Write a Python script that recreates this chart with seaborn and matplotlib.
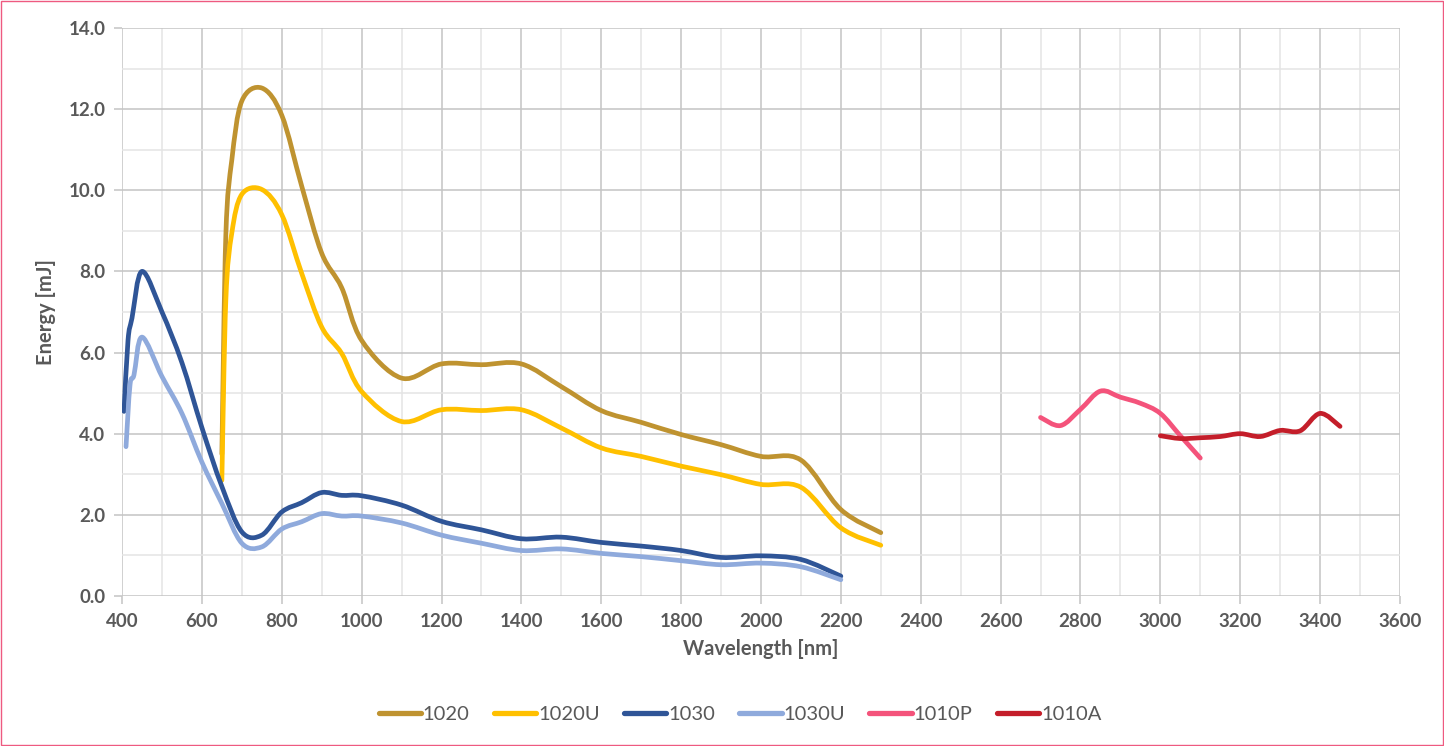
import matplotlib
matplotlib.use("Agg")
import matplotlib.pyplot as plt
import seaborn as sns
import numpy as np
from matplotlib.path import Path
from matplotlib.patches import PathPatch, Rectangle
from matplotlib.lines import Line2D
from matplotlib.ticker import MultipleLocator, FormatStrFormatter

# Data (wavelength in nm, energy in mJ)
wl_1020 = [650, 660, 675, 700, 750, 800, 850, 900, 950, 1000, 1100, 1200, 1300, 1400,
           1500, 1600, 1700, 1800, 1900, 2000, 2100, 2200, 2300]
e_1020 = [3.5, 8.9, 10.75, 12.2, 12.52, 11.85, 10.1, 8.45, 7.6, 6.3, 5.37, 5.72, 5.7, 5.72,
          5.16, 4.57, 4.28, 3.98, 3.73, 3.44, 3.35, 2.13, 1.56]

wl_1020u = wl_1020
e_1020u = [2.85, 7.3, 8.95, 9.9, 10.02, 9.4, 7.95, 6.63, 5.98, 5.04, 4.3, 4.59, 4.57, 4.59,
           4.14, 3.65, 3.44, 3.2, 2.99, 2.75, 2.68, 1.68, 1.25]

wl_1030 = [405, 415, 425, 450, 500, 550, 600, 650, 700, 750, 800, 850, 900, 950, 1000,
           1100, 1200, 1300, 1400, 1500, 1600, 1700, 1800, 1900, 2000, 2100, 2200]
e_1030 = [4.55, 6.3, 6.85, 8.0, 7.0, 5.75, 4.15, 2.7, 1.58, 1.5, 2.07, 2.3, 2.55, 2.48, 2.47,
          2.24, 1.84, 1.63, 1.41, 1.45, 1.32, 1.23, 1.12, 0.95, 0.99, 0.9, 0.49]

wl_1030u = [410, 420, 430, 450, 500, 550, 600, 650, 700, 750, 800, 850, 900, 950, 1000,
            1100, 1200, 1300, 1400, 1500, 1600, 1700, 1800, 1900, 2000, 2100, 2200]
e_1030u = [3.68, 5.2, 5.45, 6.38, 5.41, 4.5, 3.3, 2.28, 1.3, 1.21, 1.65, 1.83, 2.03, 1.97, 1.97,
           1.8, 1.5, 1.3, 1.12, 1.16, 1.05, 0.97, 0.87, 0.77, 0.81, 0.72, 0.4]

wl_1010p = [2700, 2750, 2800, 2850, 2900, 2950, 3000, 3050, 3100]
e_1010p = [4.4, 4.2, 4.6, 5.05, 4.9, 4.75, 4.5, 3.95, 3.4]

wl_1010a = [3000, 3050, 3100, 3150, 3200, 3250, 3300, 3350, 3400, 3450]
e_1010a = [3.95, 3.88, 3.9, 3.93, 4.0, 3.93, 4.08, 4.07, 4.5, 4.18]

SERIES = [
    ("1020", wl_1020, e_1020),
    ("1020U", wl_1020u, e_1020u),
    ("1030", wl_1030, e_1030),
    ("1030U", wl_1030u, e_1030u),
    ("1010P", wl_1010p, e_1010p),
    ("1010A", wl_1010a, e_1010a),
]
COLORS = sns.color_palette(["#BF9330", "#FFC000", "#2F5597", "#8FAADC", "#F4537B", "#C41E2A"])

TEXT_GREY = "#595959"
MAJOR_GRID = "#C4C4C4"
MINOR_GRID = "#E4E4E4"
LINE_W = 3.4


def smooth_path(x, y):
    """Excel-style smoothed line: cubic Bezier segments through the points."""
    pts = np.column_stack([x, y]).astype(float)
    n = len(pts)
    verts = [pts[0]]
    codes = [Path.MOVETO]
    for i in range(n - 1):
        p0 = pts[max(i - 1, 0)]
        p1 = pts[i]
        p2 = pts[i + 1]
        p3 = pts[min(i + 2, n - 1)]
        c1 = p1 + (p2 - p0) / 6.0
        c2 = p2 - (p3 - p1) / 6.0
        verts += [c1, c2, p2]
        codes += [Path.CURVE4] * 3
    return Path(verts, codes)


sns.set_theme(style="whitegrid")
plt.rcParams["font.family"] = ["Lato", "DejaVu Sans"]

fig = plt.figure(figsize=(14.44, 7.46), dpi=100)
ax = fig.add_axes([0.0845, 0.2011, 0.8850, 0.7614])
ax.set_facecolor("white")

for (name, xs, ys), color in zip(SERIES, COLORS):
    patch = PathPatch(smooth_path(xs, ys), facecolor="none", edgecolor=color,
                      linewidth=LINE_W, capstyle="round", joinstyle="round", zorder=3)
    ax.add_patch(patch)

ax.set_xlim(400, 3600)
ax.set_ylim(0, 14)
ax.xaxis.set_major_locator(MultipleLocator(200))
ax.xaxis.set_minor_locator(MultipleLocator(100))
ax.yaxis.set_major_locator(MultipleLocator(2))
ax.yaxis.set_minor_locator(MultipleLocator(1))
ax.yaxis.set_major_formatter(FormatStrFormatter("%.1f"))

ax.grid(which="major", color=MAJOR_GRID, linewidth=1.1)
ax.grid(which="minor", color=MINOR_GRID, linewidth=1.1)
ax.set_axisbelow(True)
for side in ["top", "right", "left", "bottom"]:
    ax.spines[side].set_visible(False)

ax.tick_params(axis="both", which="major", length=6, width=1.1, color=MAJOR_GRID,
               labelsize=13.5, labelcolor=TEXT_GREY, pad=6)
ax.tick_params(axis="both", which="minor", length=0)
ax.tick_params(axis="x", bottom=True)
ax.tick_params(axis="y", left=True)
for lbl in ax.get_xticklabels() + ax.get_yticklabels():
    lbl.set_fontweight("bold")

ax.set_xlabel("Wavelength [nm]", fontsize=14.5, fontweight="bold", color=TEXT_GREY, labelpad=7)
ax.set_ylabel("Energy [mJ]", fontsize=14.5, fontweight="bold", color=TEXT_GREY, labelpad=9)

handles = [Line2D([0], [0], color=c, linewidth=LINE_W + 0.4, solid_capstyle="round") for c in COLORS]
labels = [s[0] for s in SERIES]
fig.legend(handles, labels, loc="center", bbox_to_anchor=(740 / 1444, 1 - 714 / 746),
           ncol=6, frameon=False, fontsize=14.5, labelcolor=TEXT_GREY,
           handlelength=2.1, handletextpad=0.1, columnspacing=1.2)

# thin pink frame round the whole chart area
fig.patches.append(Rectangle((0.001, 0.001), 0.998, 0.997, transform=fig.transFigure,
                             fill=False, edgecolor="#EE5A80", linewidth=1.0))

fig.savefig("out.png", dpi=100, facecolor="white")
